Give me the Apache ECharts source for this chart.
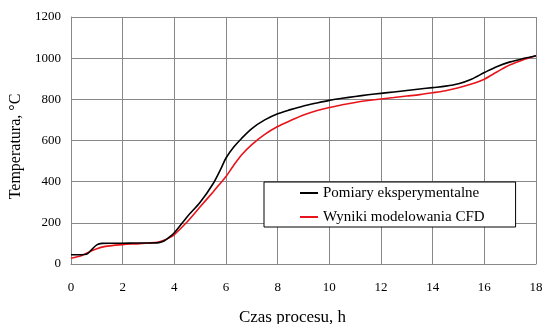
<!DOCTYPE html>
<html><head><meta charset="utf-8">
<script src="https://cdn.jsdelivr.net/npm/echarts@6/dist/echarts.min.js"></script>
<style>html,body{margin:0;padding:0;background:#fff}#c{width:542px;height:324px}</style>
</head><body><div id="c"></div>
<script>
const times = [0,0.4,0.6,0.8,1.0,1.2,1.5,2,2.5,3,3.4,3.6,3.8,4.0,4.5,5.0,5.5,5.8,6.0,6.3,6.6,7.0,7.5,8,8.5,9,9.5,10,10.5,11,11.5,12,12.5,13,13.5,14,14.5,15,15.5,16,16.5,17,17.5,18];
const measured = [45,45,47,70,93,100,101,101,102,102,104,112,130,152,230,300,390,462,515,568,610,658,700,730,750,768,782,795,805,814,822,829,836,843,850,857,864,876,898,930,960,982,998,1012];
const cfd = [28,40,52,64,74,82,88,94,98,102,107,115,127,143,205,278,350,395,425,480,530,580,630,668,697,724,745,760,774,785,794,802,809,816,823,832,842,856,874,898,934,968,992,1012];
const seriesNames = ['Pomiary eksperymentalne','Wyniki modelowania CFD'];
const xTicks = [0,2,4,6,8,10,12,14,16,18];
const yTicks = [0,200,400,600,800,1000,1200];

const font = 'Liberation Serif';
const chart = echarts.init(document.getElementById('c'));
const pairs = v => times.map((t,i)=>[t,v[i]]);
chart.setOption({
  animation:false,
  grid:{left:71,right:6,top:17,bottom:60,outerBoundsMode:'none',containLabel:false},
  textStyle:{fontFamily:font},
  xAxis:{type:'value',min:xTicks[0],max:xTicks[xTicks.length-1],interval:2,
    name:'Czas procesu, h',nameLocation:'middle',nameGap:45,
    nameTextStyle:{fontFamily:font,fontSize:17,color:'#000',padding:[0,22,0,0]},
    axisLine:{show:true,lineStyle:{color:'#888',width:1}},axisTick:{show:false},
    axisLabel:{fontFamily:font,fontSize:13,color:'#000',margin:17,formatter:v=>String(v)},
    splitLine:{show:true,lineStyle:{color:'#888',width:1}}},
  yAxis:{type:'value',min:yTicks[0],max:yTicks[yTicks.length-1],interval:200,
    name:'Temperatura, °C',nameLocation:'middle',nameGap:39,
    nameTextStyle:{fontFamily:font,fontSize:16,color:'#000',padding:[0,0,0,-12]},
    axisLine:{show:true,lineStyle:{color:'#888',width:1}},axisTick:{show:false},
    axisLabel:{fontFamily:font,fontSize:13,color:'#000',margin:10,formatter:v=>String(v)},
    splitLine:{show:true,lineStyle:{color:'#888',width:1}}},
  legend:{orient:'vertical',left:264,top:182,backgroundColor:'#fff',borderColor:'#000',borderWidth:1,
    padding:[3,31,2,36],itemGap:8,itemWidth:18,itemHeight:2,icon:'rect',
    textStyle:{fontFamily:font,fontSize:15,color:'#000',lineHeight:16},
    data:seriesNames},
  series:[
    {name:seriesNames[0],type:'line',data:pairs(measured),smooth:0.3,symbol:'none',
      lineStyle:{color:'#000',width:1.6},itemStyle:{color:'#000'},z:3},
    {name:seriesNames[1],type:'line',data:pairs(cfd),smooth:0.3,symbol:'none',
      lineStyle:{color:'#e8141b',width:1.6},itemStyle:{color:'#e8141b'},z:2}
  ]
});
</script></body></html>
